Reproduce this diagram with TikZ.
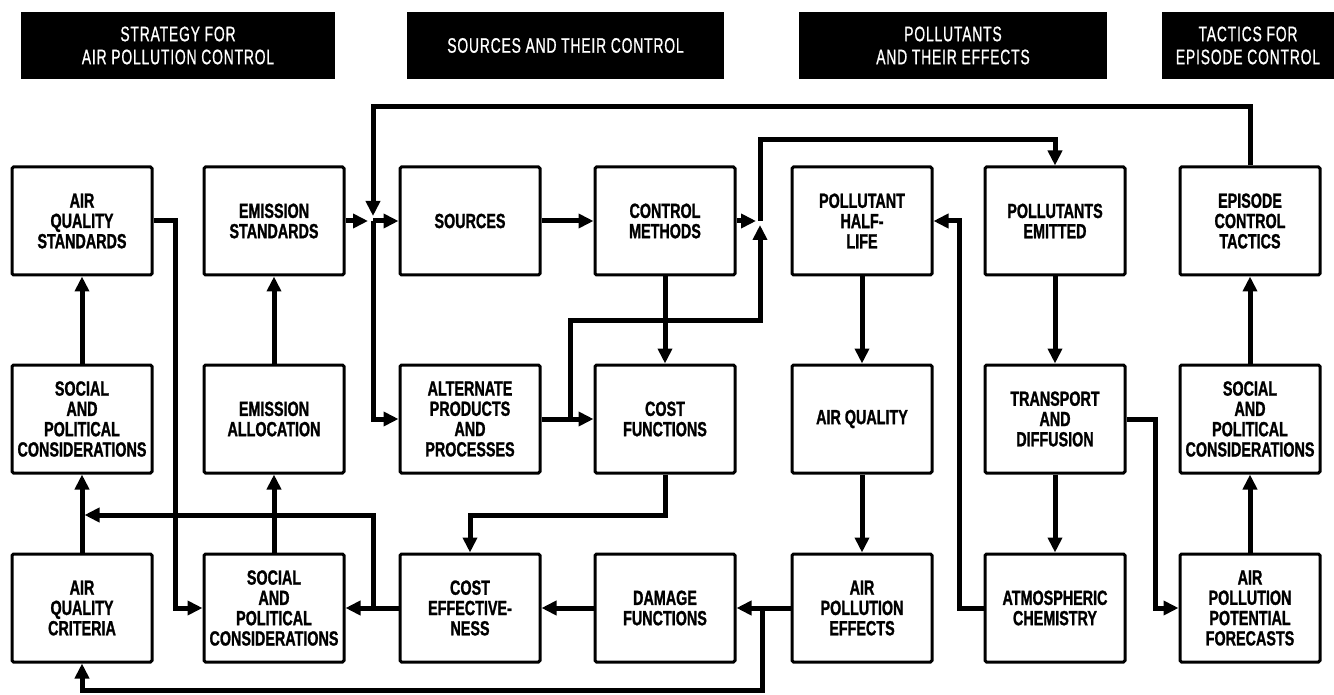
\documentclass[tikz,border=0pt]{standalone}
\usepackage{fontspec}
\setmainfont{Liberation Sans}
\newfontfamily\boxfont{Liberation Sans}[FakeStretch=0.7, BoldFeatures={FakeBold=1.2}]
\newfontfamily\hdfont{Liberation Sans}[FakeStretch=0.66, LetterSpace=4, FakeBold=0.8]
\usetikzlibrary{arrows.meta}
\tikzset{
  box/.style={draw, line width=3pt, rounded corners=1.5pt, minimum width=140pt, minimum height=108pt,
    inner sep=2pt, align=center, font=\boxfont\bfseries\fontsize{20.5}{20.3}\selectfont},
  hdr/.style={fill=black, text=white, align=center, minimum height=67pt, inner sep=0pt,
    font=\hdfont\fontsize{21}{23}\selectfont},
  conn/.style={line width=5pt},
  arr/.style={conn, -{Triangle[length=15pt,width=14pt]}},
}
\begin{document}
\begin{tikzpicture}[x=1pt,y=-1pt]
\useasboundingbox (0,0) rectangle (1334,695);
% headers
\node[hdr, minimum width=314pt] (h1) at (178,45.5) {STRATEGY FOR\\AIR POLLUTION CONTROL};
\node[hdr, minimum width=317pt] (h2) at (565.5,45.5) {SOURCES AND THEIR CONTROL};
\node[hdr, minimum width=308pt] (h3) at (953,45.5) {POLLUTANTS\\AND THEIR EFFECTS};
\node[hdr, minimum width=172pt] (h4) at (1248,45.5) {TACTICS FOR\\EPISODE CONTROL};
% row 1
\node[box] (aqs) at (82,221) {AIR\\QUALITY\\STANDARDS};
\node[box] (es) at (274,221) {EMISSION\\STANDARDS};
\node[box] (src) at (470,221) {SOURCES};
\node[box] (cm) at (665,221) {CONTROL\\METHODS};
\node[box] (ph) at (862,221) {POLLUTANT\\HALF-\\LIFE};
\node[box] (pe) at (1055,221) {POLLUTANTS\\EMITTED};
\node[box] (ect) at (1250,221) {EPISODE\\CONTROL\\TACTICS};
% row 2
\node[box] (spc1) at (82,419) {SOCIAL\\AND\\POLITICAL\\CONSIDERATIONS};
\node[box] (ea) at (274,419) {EMISSION\\ALLOCATION};
\node[box] (alt) at (470,419) {ALTERNATE\\PRODUCTS\\AND\\PROCESSES};
\node[box] (cf) at (665,419) {COST\\FUNCTIONS};
\node[box] (aq) at (862,419) {AIR QUALITY};
\node[box] (td) at (1055,419) {TRANSPORT\\AND\\DIFFUSION};
\node[box] (spc7) at (1250,419) {SOCIAL\\AND\\POLITICAL\\CONSIDERATIONS};
% row 3
\node[box] (aqc) at (82,608) {AIR\\QUALITY\\CRITERIA};
\node[box] (spc2) at (274,608) {SOCIAL\\AND\\POLITICAL\\CONSIDERATIONS};
\node[box] (ce) at (470,608) {COST\\EFFECTIVE-\\NESS};
\node[box] (df) at (665,608) {DAMAGE\\FUNCTIONS};
\node[box] (aqe) at (862,608) {AIR\\POLLUTION\\EFFECTS};
\node[box] (ac) at (1055,608) {ATMOSPHERIC\\CHEMISTRY};
\node[box] (appf) at (1250,608) {AIR\\POLLUTION\\POTENTIAL\\FORECASTS};
% junctions
\coordinate (jES) at (373,221);
\coordinate (jCM) at (760,221);
\coordinate (jCE) at (373,608);
\coordinate (jAQE) at (762,608);
\coordinate (jAlt) at (570,419);
\coordinate (lc1) at (82,515);
% connectors
\draw[arr] (aqs.east) -- ++(22,0) |- (spc2.west);
\draw[arr] (spc1.north) -- (aqs.south);
\draw[arr] (aqc.north) -- (spc1.south);
\draw[arr] (jAQE) -- ++(0,82) -| (aqc.south);
\draw[arr] (aqe.west) -- (df.east);
\draw[arr] (df.west) -- (ce.east);
\draw[arr] (ce.west) -- (spc2.east);
\draw[arr, shorten >=2.5pt] (jCE) |- (lc1);
\draw[arr] (spc2.north) -- (ea.south);
\draw[arr] (ea.north) -- (es.south);
\draw[arr, shorten >=5pt] (es.east) -- (jES);
\draw[arr, shorten >=5pt] (ect.north) -- ++(0,-59) -| (jES);
\draw[arr] (jES) -- (src.west);
\draw[arr] (jES) |- (alt.west);
\draw[arr] (src.east) -- (cm.west);
\draw[arr, shorten >=4pt] (cm.east) -- (jCM);
\draw[arr] (jCM) -- ++(0,-81) -| (pe.north);
\draw[arr] (alt.east) -- (cf.west);
\draw[arr, shorten >=4pt] (jAlt) -- ++(0,-99) -| (jCM);
\draw[arr] (cm.south) -- (cf.north);
\draw[arr] (cf.south) -- ++(0,41) -| (ce.north);
\draw[arr] (ph.south) -- (aq.north);
\draw[arr] (aq.south) -- (aqe.north);
\draw[arr] (pe.south) -- (td.north);
\draw[arr] (td.south) -- (ac.north);
\draw[arr] (ac.west) -- ++(-24,0) |- (ph.east);
\draw[arr] (td.east) -- ++(29,0) |- (appf.west);
\draw[arr] (appf.north) -- (spc7.south);
\draw[arr] (spc7.north) -- (ect.south);
\end{tikzpicture}
\end{document}
